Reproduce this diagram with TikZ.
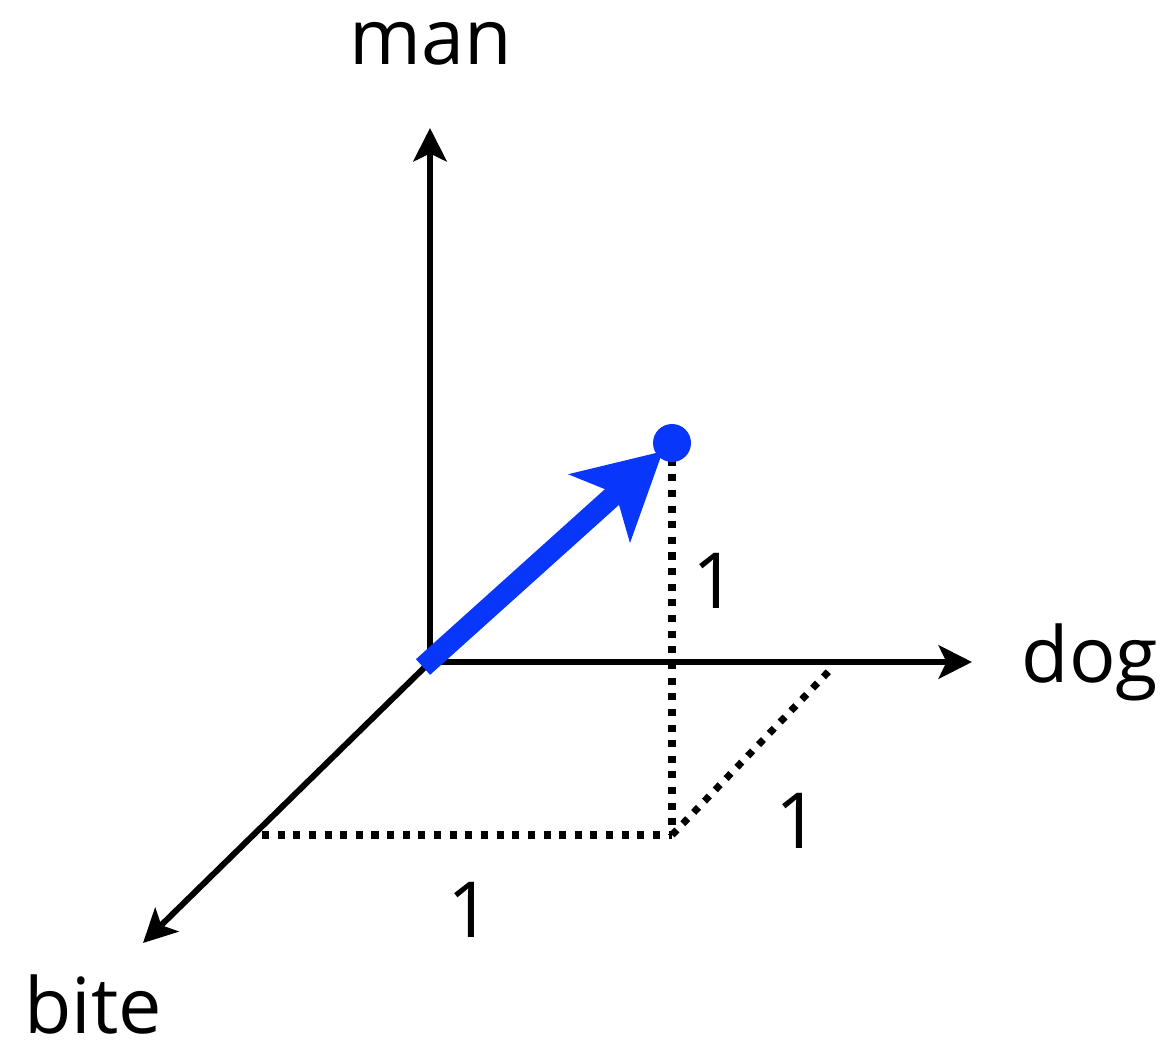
\documentclass[tikz,border=0pt]{standalone}
\usepackage{fontspec}
\setmainfont{Open Sans}
\usetikzlibrary{arrows.meta, positioning, calc}
\definecolor{vecblue}{RGB}{8,54,250}
\tikzset{
  axis/.style={
    line width=3.4pt, draw=black,
    -{Stealth[length=19pt, width=19pt, inset=4.5pt]},
  },
  dotline/.style={
    line width=4pt, draw=black, line cap=butt,
    dash pattern=on 4pt off 4.9pt,
  },
  vecline/.style={
    line width=12pt, draw=vecblue, line cap=butt,
    -{Stealth[length=48pt, width=51pt, inset=12pt]},
  },
  axlabel/.style={
    font=\fontsize{44}{52}\selectfont, anchor=base, inner sep=0pt,
  },
}

\begin{document}
\begin{tikzpicture}

  \fill[white] (0,0) rectangle (23.3,-20.82);

  \coordinate (o)    at (8.6,-13.24);
  \coordinate (mtip) at (8.6,-2.56);
  \coordinate (dtip) at (19.44,-13.24);
  \coordinate (btip) at (2.86,-18.86);
  \coordinate (vs)   at (8.46,-13.34);
  \coordinate (p)    at (13.44,-8.86);
  \coordinate (f)    at (13.44,-16.7);
  \coordinate (fl)   at (5.24,-16.7);
  \coordinate (fr)   at (16.6,-13.4);

  % axes
  \draw[axis] (o) -- (mtip);
  \draw[axis] (o) -- (dtip);
  \draw[axis] (o) -- (btip);

  % projections
  \draw[dotline] (fl) -- (f);
  \draw[dotline] (f) -- (fr);
  \draw[dotline] (p) -- (f);

  % vector
  \draw[vecline, shorten >=7pt] (vs) -- (p);
  \fill[vecblue] (p) circle (0.38);

  \node[axlabel] (man)  at (8.62,-1.3)   {man};
  \node[axlabel] (dog)  at (21.8,-13.64) {dog};
  \node[axlabel] (bite) at (1.86,-20.66) {bite};

  \node[axlabel] (one1) at (14.3,-12.16)  {1};
  \node[axlabel] (one2) at (15.96,-16.96) {1};
  \node[axlabel] (one3) at (9.4,-18.74)   {1};

\end{tikzpicture}
\end{document}
